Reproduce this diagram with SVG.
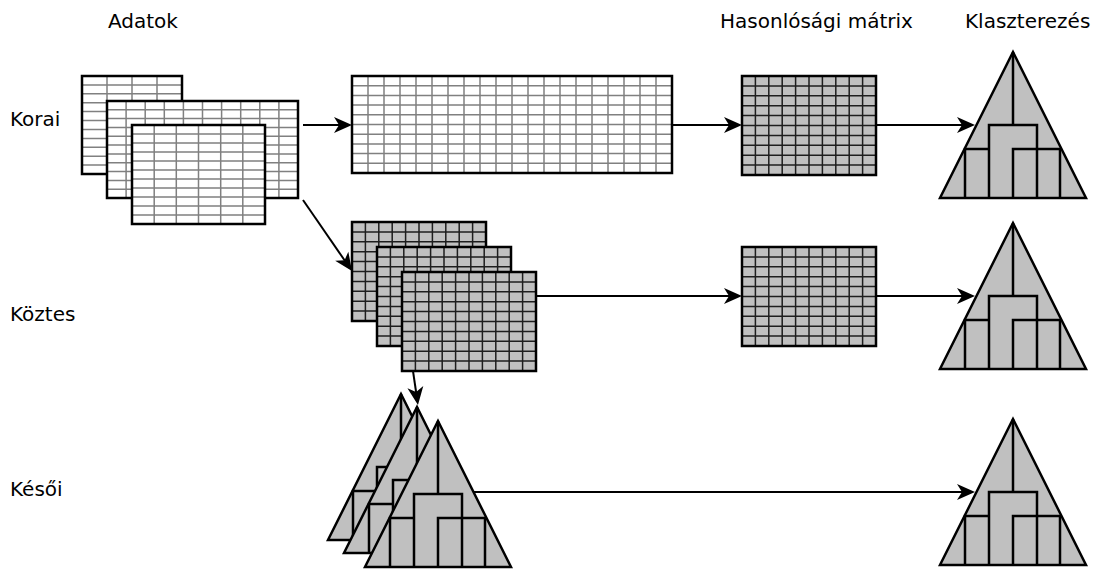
<svg xmlns="http://www.w3.org/2000/svg" xmlns:xlink="http://www.w3.org/1999/xlink" width="1102" height="570" viewBox="0 0 1102 570">
<style>
text{font-family:"DejaVu Sans","Liberation Sans",sans-serif;font-size:20px;fill:#000}
.tbl{fill:#fff}
.tgrid{fill:none;stroke:#808080;stroke-width:1.5}
.mat{fill:#c0c0c0}
.mgrid{fill:none;stroke:#1e1e1e;stroke-width:1.5}
.bord{fill:none;stroke:#000;stroke-width:2.5}
.tri{fill:#c0c0c0;stroke:#000;stroke-width:2.5;stroke-linejoin:miter}
.den{fill:none;stroke:#000;stroke-width:2.5}
.con{fill:none;stroke:#000;stroke-width:2}
</style>
<defs>
<marker id="arr" markerUnits="userSpaceOnUse" viewBox="-15 -9 20 18" markerWidth="20" markerHeight="18" refX="0" refY="0" orient="auto">
<path d="M4,0 L-14,-8 L-9,0 L-14,8 Z" fill="#000"/>
</marker>
<g id="matrix">
<rect class="mat" x="0" y="0" width="134" height="99"/>
<path class="mgrid" d="M13.4 0V99M26.8 0V99M40.2 0V99M53.6 0V99M67 0V99M80.4 0V99M93.8 0V99M107.2 0V99M120.6 0V99M0 9.9H134M0 19.8H134M0 29.7H134M0 39.6H134M0 49.5H134M0 59.4H134M0 69.3H134M0 79.2H134M0 89.1H134"/>
<rect class="bord" x="0" y="0" width="134" height="99"/>
</g>
<g id="tree">
<path class="tri" d="M0 0L73 146H-73Z"/>
<path class="den" d="M0 0V73M-24 146V73H24V146M-48 146V97H-24M0 146V97H47V146"/>
</g>
</defs>

<g id="labels">
<text x="108" y="28">Adatok</text>
<text x="720" y="28">Hasonlósági mátrix</text>
<text x="965" y="28">Klaszterezés</text>
<text x="10" y="126">Korai</text>
<text x="10" y="321">Köztes</text>
<text x="10" y="496">Késői</text>
</g>

<g id="data-tables">
<g id="table-a">
<rect class="tbl" x="82" y="76" width="100" height="98"/>
<path class="tgrid" d="M107 76V174M132 76V174M157 76V174M82 84.9H182M82 93.8H182M82 102.7H182M82 111.6H182M82 120.5H182M82 129.5H182M82 138.4H182M82 147.3H182M82 156.2H182M82 165.1H182"/>
<rect class="bord" x="82" y="76" width="100" height="98"/>
</g>
<g id="table-b">
<rect class="tbl" x="107" y="101" width="191" height="97"/>
<path class="tgrid" d="M126.1 101V198M145.2 101V198M164.3 101V198M183.4 101V198M202.5 101V198M221.6 101V198M240.7 101V198M259.8 101V198M278.9 101V198M107 109.8H298M107 118.6H298M107 127.5H298M107 136.3H298M107 145.1H298M107 153.9H298M107 162.7H298M107 171.5H298M107 180.4H298M107 189.2H298"/>
<rect class="bord" x="107" y="101" width="191" height="97"/>
</g>
<g id="table-c">
<rect class="tbl" x="132" y="125" width="133" height="99"/>
<path class="tgrid" d="M154.2 125V224M176.3 125V224M198.5 125V224M220.7 125V224M242.8 125V224M132 134H265M132 143H265M132 152H265M132 161H265M132 170H265M132 179H265M132 188H265M132 197H265M132 206H265M132 215H265"/>
<rect class="bord" x="132" y="125" width="133" height="99"/>
</g>
</g>

<g id="wide-table">
<rect class="tbl" x="352" y="76" width="320" height="97"/>
<path class="tgrid" d="M368 76V173M384 76V173M400 76V173M416 76V173M432 76V173M448 76V173M464 76V173M480 76V173M496 76V173M512 76V173M528 76V173M544 76V173M560 76V173M576 76V173M592 76V173M608 76V173M624 76V173M640 76V173M656 76V173M352 85.7H672M352 95.4H672M352 105.1H672M352 114.8H672M352 124.5H672M352 134.2H672M352 143.9H672M352 153.6H672M352 163.3H672"/>
<rect class="bord" x="352" y="76" width="320" height="97"/>
</g>

<g id="matrix-korai"><use xlink:href="#matrix" href="#matrix" x="742" y="76"/></g>
<g id="matrix-koztes"><use xlink:href="#matrix" href="#matrix" x="742" y="247"/></g>

<g id="matrix-stack">
<use xlink:href="#matrix" href="#matrix" x="352" y="222"/>
<use xlink:href="#matrix" href="#matrix" x="377" y="247"/>
<use xlink:href="#matrix" href="#matrix" x="402" y="272"/>
</g>

<g id="tree-korai"><use xlink:href="#tree" href="#tree" transform="translate(1013,52)"/></g>
<g id="tree-koztes"><use xlink:href="#tree" href="#tree" transform="translate(1013,223)"/></g>
<g id="tree-kesoi"><use xlink:href="#tree" href="#tree" transform="translate(1013,419)"/></g>

<g id="tree-stack">
<use xlink:href="#tree" href="#tree" transform="translate(401,394)"/>
<use xlink:href="#tree" href="#tree" transform="translate(417,407)"/>
<use xlink:href="#tree" href="#tree" transform="translate(438,421)"/>
</g>

<g id="connectors">
<path class="con" marker-end="url(#arr)" d="M303 125H348"/>
<path class="con" marker-end="url(#arr)" d="M673 125H738"/>
<path class="con" marker-end="url(#arr)" d="M877 125H971"/>
<path class="con" marker-end="url(#arr)" d="M303 200L349.7 267.7"/>
<path class="con" marker-end="url(#arr)" d="M536 296H738"/>
<path class="con" marker-end="url(#arr)" d="M877 296H971"/>
<path class="con" marker-end="url(#arr)" d="M413 371L417.4 401"/>
<path class="con" marker-end="url(#arr)" d="M474 492H971"/>
</g>
</svg>
